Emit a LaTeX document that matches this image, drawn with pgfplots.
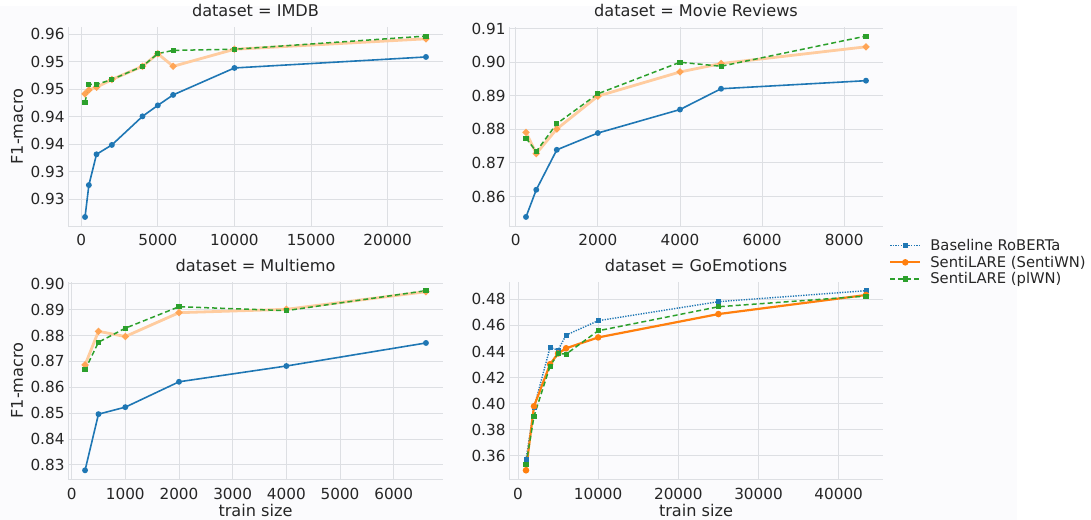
\documentclass[border=0pt]{standalone}
\usepackage{fontspec}
\setmainfont{DejaVu Sans}
\usepackage{pgfplots}
\pgfplotsset{compat=1.18}

\definecolor{cblue}{HTML}{1F77B4}
\definecolor{corange}{HTML}{FF7F0E}
\definecolor{cgreen}{HTML}{2CA02C}
\definecolor{gridc}{RGB}{221,223,227}
\definecolor{bgc}{RGB}{251,251,253}
\definecolor{txt}{RGB}{38,38,38}

\pgfplotsset{
  panel/.style={
    scale only axis,
    anchor=south west,
    axis background/.style={fill=bgc},
    axis x line*=bottom, axis y line*=left,
    axis line style={gridc, line width=0.9pt, -},
    grid=major, major grid style={gridc, line width=0.9pt},
    major tick length=0pt,
    tick label style={font=\fontsize{15.3}{18}\selectfont, text=txt},
    /pgf/number format/assume math mode=true,
    /pgf/number format/1000 sep={},
    scaled ticks=false,
    xticklabel style={anchor=base, yshift=-20bp},
    title style={font=\fontsize{16.2}{20}\selectfont, text=txt, anchor=base, at={(axis description cs:0.5,1)}, yshift=4.5bp},
    label style={font=\fontsize{16.2}{20}\selectfont, text=txt},
    ylabel style={at={(axis description cs:-0.136,0.5)}, anchor=center},
    xlabel style={at={(axis description cs:0.5,0)}, anchor=center, yshift=-31bp},
  },
  sblue/.style={cblue, line width=1.6bp, mark=*, mark size=2.1bp, mark options={solid, fill=cblue, draw=cblue}},
  sorangelight/.style={corange!40, line width=2.8bp, mark=*, mark size=1.8bp, mark options={solid, fill=corange, draw=corange!70}},
  sgreen/.style={cgreen, line width=1.5bp, dash pattern=on 5bp off 3bp, mark=square*, mark size=1.8bp, mark options={solid, fill=cgreen, draw=cgreen}},
  sbluedot/.style={cblue, line width=1.4bp, dash pattern=on 1.3bp off 1.3bp, mark=square*, mark size=1.8bp, mark options={solid, fill=cblue, draw=cblue}},
  sorange/.style={corange, line width=2.2bp, mark=*, mark size=2.1bp, mark options={solid, fill=corange, draw=corange}},
}

\begin{document}
\begin{tikzpicture}
\path (0,0) rectangle (1091bp,520bp);
\fill[bgc] (0,0) rectangle (1017bp,514bp);

% ---------- IMDB ----------
\begin{axis}[panel, at={(68bp,294bp)}, width=375bp, height=199bp,
  xmin=-862, xmax=23612, ymin=0.92516, ymax=0.96135,
  xtick={0,5000,10000,15000,20000},
  ytick={0.930,0.935,0.940,0.945,0.950,0.955,0.960},
  yticklabels={0.93,0.93,0.94,0.94,0.95,0.95,0.96},
  title={dataset = IMDB}, ylabel={F1-macro}]
\addplot[sblue] coordinates {(250,0.9268) (500,0.9326) (1000,0.9382) (2000,0.9399) (4000,0.9451) (5000,0.9471) (6000,0.9490) (10000,0.9539) (22500,0.9559)};
\addplot[sorangelight] coordinates {(250,0.9492) (500,0.9499) (1000,0.9504) (2000,0.9518) (4000,0.9542) (5000,0.9565) (6000,0.9542) (10000,0.9573) (22500,0.9592)};
\addplot[sgreen] coordinates {(250,0.9477) (500,0.9509) (1000,0.9509) (2000,0.9518) (4000,0.9542) (5000,0.9565) (6000,0.9571) (10000,0.9573) (22500,0.9597)};
\end{axis}

% ---------- Movie Reviews ----------
\begin{axis}[panel, at={(509bp,294bp)}, width=374bp, height=199bp,
  xmin=-164, xmax=8944, ymin=0.8512, ymax=0.9105,
  xtick={0,2000,4000,6000,8000},
  ytick={0.86,0.87,0.88,0.89,0.90,0.91},
  yticklabels={0.86,0.87,0.88,0.89,0.90,0.91},
  title={dataset = Movie Reviews}]
\addplot[sblue] coordinates {(250,0.8539) (500,0.8620) (1000,0.8739) (2000,0.8789) (4000,0.8859) (5000,0.8921) (8530,0.8945)};
\addplot[sorangelight] coordinates {(250,0.8791) (500,0.8728) (1000,0.8801) (2000,0.8899) (4000,0.8971) (5000,0.8996) (8530,0.9046)};
\addplot[sgreen] coordinates {(250,0.8774) (500,0.8734) (1000,0.8817) (2000,0.8906) (4000,0.9000) (5000,0.8988) (8530,0.9078)};
\end{axis}

% ---------- Multiemo ----------
\begin{axis}[panel, at={(68bp,40.7bp)}, width=375bp, height=197.6bp,
  xmin=-67.5, xmax=6917.5, ymin=0.82443, ymax=0.90077,
  xtick={0,1000,2000,3000,4000,5000,6000},
  ytick={0.83,0.84,0.85,0.86,0.87,0.88,0.89,0.90},
  yticklabels={0.83,0.84,0.85,0.86,0.87,0.88,0.89,0.90},
  title={dataset = Multiemo}, ylabel={F1-macro}, xlabel={train size}]
\addplot[sblue] coordinates {(250,0.8279) (500,0.8496) (1000,0.8523) (2000,0.8621) (4000,0.8682) (6600,0.8771)};
\addplot[sorangelight] coordinates {(250,0.8686) (500,0.8816) (1000,0.8796) (2000,0.8888) (4000,0.8901) (6600,0.8969)};
\addplot[sgreen] coordinates {(250,0.8667) (500,0.8774) (1000,0.8828) (2000,0.8911) (4000,0.8896) (6600,0.8973)};
\end{axis}

% ---------- GoEmotions ----------
\begin{axis}[panel, at={(509bp,40.7bp)}, width=374bp, height=197.6bp,
  xmin=-1120, xmax=45530, ymin=0.3421, ymax=0.4935,
  xtick={0,10000,20000,30000,40000},
  ytick={0.36,0.38,0.40,0.42,0.44,0.46,0.48},
  yticklabels={0.36,0.38,0.40,0.42,0.44,0.46,0.48},
  title={dataset = GoEmotions}, xlabel={train size},
  legend style={at={(axis description cs:1.008,1.098)}, anchor=west, draw=none, fill=none,
    font=\fontsize{14.8}{20}\selectfont, text=txt, row sep=0bp,
    /tikz/every odd column/.append style={column sep=7bp}},
  legend cell align=left,
  legend image code/.code={\draw[mark repeat=2, mark phase=2] plot coordinates {(0bp,0bp) (15bp,0bp) (30bp,0bp)};}]
\addplot[sbluedot] coordinates {(1000,0.3572) (2000,0.3970) (4000,0.4431) (5000,0.4411) (6000,0.4526) (10000,0.4636) (25000,0.4782) (43410,0.4866)};
\addlegendentry{Baseline RoBERTa}
\addplot[sorange] coordinates {(1000,0.3490) (2000,0.3981) (4000,0.4303) (5000,0.4385) (6000,0.4425) (10000,0.4508) (25000,0.4687) (43410,0.4833)};
\addlegendentry{SentiLARE (SentiWN)}
\addplot[sgreen] coordinates {(1000,0.3536) (2000,0.3904) (4000,0.4288) (5000,0.4385) (6000,0.4380) (10000,0.4559) (25000,0.4743) (43410,0.4825)};
\addlegendentry{SentiLARE (plWN)}
\end{axis}
\end{tikzpicture}
\end{document}
